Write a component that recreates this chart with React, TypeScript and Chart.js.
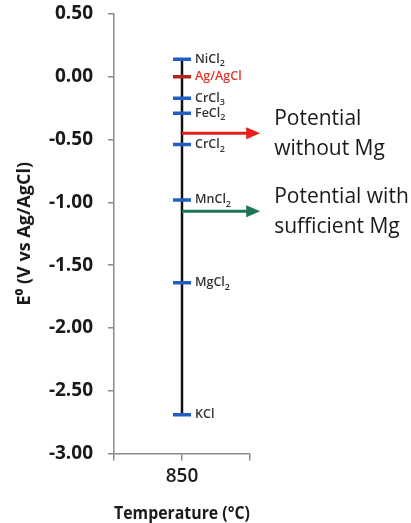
import React, { useEffect, useRef } from 'react';
import { Chart, registerables } from 'chart.js';

Chart.register(...registerables);

const categories = ['850'];
const species = ['NiCl2', 'Ag/AgCl', 'CrCl3', 'FeCl2', 'CrCl2', 'MnCl2', 'MgCl2', 'KCl'];
const potentials = [0.14, 0.0, -0.17, -0.29, -0.54, -0.98, -1.64, -2.69];
const arrowPotentials = [-0.45, -1.07];
const arrowLabels = [
  ['Potential', 'without Mg'],
  ['Potential with', 'sufficient Mg'],
];
const yMin = -3.0;
const yMax = 0.5;
const yStep = 0.5;

const BLUE = '#1f5fc4';
const DARK_RED = '#b5231f';
const RED = '#e8201c';
const GREEN = '#1d7456';
const AXIS = '#8a8a8a';
const FONT = '"Open Sans", "Liberation Sans", sans-serif';

function drawChem(ctx: CanvasRenderingContext2D, text: string, x: number, y: number, size: number, color: string) {
  ctx.save();
  ctx.fillStyle = color;
  ctx.textBaseline = 'middle';
  ctx.textAlign = 'left';
  let cx = x;
  const parts = text.match(/(\d+|[^\d]+)/g) || [];
  for (const p of parts) {
    if (/^\d+$/.test(p)) {
      ctx.font = `600 ${size * 0.72}px ${FONT}`;
      ctx.fillText(p, cx, y + size * 0.35);
      cx += ctx.measureText(p).width;
    } else {
      ctx.font = `600 ${size}px ${FONT}`;
      ctx.fillText(p, cx, y);
      cx += ctx.measureText(p).width;
    }
  }
  ctx.restore();
}

const overlayPlugin = {
  id: 'overlay',
  afterDatasetsDraw(chart: any) {
    const ctx = chart.ctx as CanvasRenderingContext2D;
    const xs = chart.scales.x;
    const ys = chart.scales.y;
    const meta = chart.getDatasetMeta(1);
    meta.data.forEach((pt: any, i: number) => {
      const name = species[i];
      drawChem(ctx, name, pt.x + 13, pt.y, 12.5, name === 'Ag/AgCl' ? '#e23a2e' : '#333333');
    });
    arrowPotentials.forEach((v, i) => {
      const color = i === 0 ? RED : GREEN;
      const y = ys.getPixelForValue(v);
      const x0 = xs.getPixelForValue(1);
      const x1 = xs.getPixelForValue(2.15);
      ctx.save();
      ctx.strokeStyle = color;
      ctx.fillStyle = color;
      ctx.lineWidth = 3;
      ctx.beginPath();
      ctx.moveTo(x0, y);
      ctx.lineTo(x1 - 12, y);
      ctx.stroke();
      ctx.beginPath();
      ctx.moveTo(x1, y);
      ctx.lineTo(x1 - 14, y - 6);
      ctx.lineTo(x1 - 14, y + 6);
      ctx.closePath();
      ctx.fill();
      ctx.fillStyle = '#1a1a1a';
      ctx.font = `21px ${FONT}`;
      ctx.textBaseline = 'middle';
      ctx.textAlign = 'left';
      const lines = arrowLabels[i];
      ctx.fillText(lines[0], x1 + 14, y - 14);
      ctx.fillText(lines[1], x1 + 14, y + 16);
      ctx.restore();
    });
  },
};

export default function App() {
  const ref = useRef<HTMLCanvasElement>(null);
  useEffect(() => {
    document.body.style.margin = '0';
    const top = Math.max(...potentials);
    const bottom = Math.min(...potentials);
    const chart = new Chart(ref.current as HTMLCanvasElement, {
      type: 'scatter',
      data: {
        datasets: [
          {
            type: 'line',
            data: [
              { x: 1, y: top },
              { x: 1, y: bottom },
            ],
            borderColor: '#111111',
            borderWidth: 2.5,
            pointRadius: 0,
            order: 2,
          } as any,
          {
            data: potentials.map((p) => ({ x: 1, y: p })),
            pointStyle: 'line',
            pointRadius: 9,
            pointBorderWidth: 3.5,
            pointBorderColor: species.map((s) => (s === 'Ag/AgCl' ? DARK_RED : BLUE)),
            pointBackgroundColor: species.map((s) => (s === 'Ag/AgCl' ? DARK_RED : BLUE)),
            order: 1,
          },
        ],
      },
      options: {
        animation: false,
        responsive: false,
        layout: { padding: { left: 14, right: 161, top: 0, bottom: -2 } },
        plugins: { legend: { display: false }, tooltip: { enabled: false } },
        scales: {
          x: {
            type: 'linear',
            min: 0,
            max: 2,
            ticks: {
              stepSize: 1,
              callback: (v: any) => (v === 1 ? categories[0] : ''),
              color: '#1a1a1a',
              font: { family: FONT, size: 19, weight: '600' },
              padding: 5,
              maxRotation: 0,
            },
            grid: { drawOnChartArea: false, color: AXIS, tickLength: 7, lineWidth: 1.5 },
            border: { color: AXIS, width: 1.5 },
            title: {
              display: true,
              text: 'Temperature (°C)',
              color: '#1a1a1a',
              font: { family: FONT, size: 18, weight: 'bold' },
              padding: { top: 10, bottom: 0 },
            },
          },
          y: {
            min: yMin,
            max: yMax,
            afterFit: (scale: any) => {
              scale.width = 100;
              scale.paddingTop = 14;
            },
            ticks: {
              stepSize: yStep,
              callback: (v: any) => Number(v).toFixed(2),
              color: '#1a1a1a',
              font: { family: FONT, size: 19, weight: 'bold' },
              padding: 15,
            },
            grid: { drawOnChartArea: false, color: AXIS, tickLength: 6, lineWidth: 1.5 },
            border: { color: AXIS, width: 1.5 },
            title: {
              display: true,
              text: 'E⁰ (V vs Ag/AgCl)',
              color: '#1a1a1a',
              font: { family: FONT, size: 18, weight: 'bold' },
              padding: { top: 0, bottom: 0 },
            },
          },
        },
      },
      plugins: [overlayPlugin],
    });
    return () => chart.destroy();
  }, []);
  return <canvas ref={ref} width={411} height={523} style={{ display: 'block' }} />;
}
